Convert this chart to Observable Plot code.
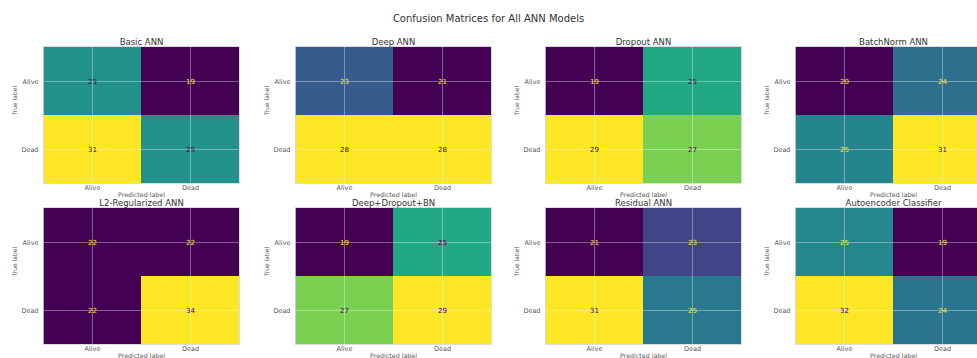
<!DOCTYPE html>
<html>
<head>
<meta charset="utf-8">
<script src="https://cdn.jsdelivr.net/npm/d3@7"></script>
<script src="https://cdn.jsdelivr.net/npm/@observablehq/plot@0.6"></script>
<style>
  html, body { margin: 0; padding: 0; background: #fff; }
  #wrap { position: relative; width: 977px; height: 358px; overflow: hidden; font-family: "DejaVu Sans", sans-serif; }
  #title { position: absolute; top: 13px; left: 0; width: 977px; text-align: center; font-size: 10px; color: #333; }
  .panel { position: absolute; }
</style>
</head>
<body>
<div id="wrap">
  <div id="title">Confusion Matrices for All ANN Models</div>
</div>
<script>
// Models, class labels and the four confusion counts per model
const models = ["Basic ANN", "Deep ANN", "Dropout ANN", "BatchNorm ANN",
                "L2-Regularized ANN", "Deep+Dropout+BN", "Residual ANN", "Autoencoder Classifier"];
const classes = ["Alive", "Dead"];
const trueAlivePredAlive = [25, 23, 19, 20, 22, 19, 21, 25];
const trueAlivePredDead  = [19, 21, 25, 24, 22, 25, 23, 19];
const trueDeadPredAlive  = [31, 28, 29, 25, 22, 27, 31, 32];
const trueDeadPredDead   = [25, 28, 27, 31, 34, 29, 25, 24];

const colLeft = [0, 252, 502, 752];
const rowTop = [30, 191];
const dark = d3.interpolateViridis(0);
const bright = d3.interpolateViridis(1);
const wrap = document.getElementById("wrap");

models.forEach((name, i) => {
  const cells = [
    {truth: "Alive", pred: "Alive", value: trueAlivePredAlive[i]},
    {truth: "Alive", pred: "Dead",  value: trueAlivePredDead[i]},
    {truth: "Dead",  pred: "Alive", value: trueDeadPredAlive[i]},
    {truth: "Dead",  pred: "Dead",  value: trueDeadPredDead[i]}
  ];
  const [lo, hi] = d3.extent(cells, d => d.value);
  const thresh = (lo + hi) / 2;

  const chart = Plot.plot({
    width: 250,
    height: 177,
    marginLeft: 43,
    marginRight: 11,
    marginTop: 16,
    marginBottom: 24,
    style: {background: "transparent", overflow: "visible", fontFamily: "DejaVu Sans, sans-serif", color: "#555"},
    x: {domain: classes, padding: 0, label: null},
    y: {domain: classes, padding: 0, label: null},
    color: {type: "linear", scheme: "viridis", domain: [lo, hi]},
    marks: [
      Plot.cell(cells, {x: "pred", y: "truth", fill: "value", inset: 0}),
      Plot.gridX({stroke: "#ffffff", strokeOpacity: 0.45, strokeWidth: 0.8}),
      Plot.gridY({stroke: "#ffffff", strokeOpacity: 0.45, strokeWidth: 0.8}),
      Plot.frame({stroke: "#d8d0e0", strokeWidth: 0.8}),
      Plot.text(cells.filter(d => d.value < thresh), {x: "pred", y: "truth", text: "value", fill: bright, fontSize: 7}),
      Plot.text(cells.filter(d => d.value >= thresh), {x: "pred", y: "truth", text: "value", fill: dark, fontSize: 7}),
      Plot.axisX({tickSize: 0, tickPadding: 2, fontSize: 6.5, label: null}),
      Plot.axisY({tickSize: 0, tickPadding: 5, fontSize: 6.5, label: null}),
      Plot.text([name], {frameAnchor: "top", lineAnchor: "bottom", dy: -1.5, fontSize: 8.5, fill: "#333"}),
      Plot.text(["Predicted label"], {frameAnchor: "bottom", lineAnchor: "middle", dy: 11, fontSize: 6.3, fill: "#555"}),
      Plot.text(["True label"], {frameAnchor: "left", dx: -28, rotate: -90, fontSize: 6, fill: "#555"})
    ]
  });
  chart.classList.add("panel");
  chart.style.left = colLeft[i % 4] + "px";
  chart.style.top = rowTop[Math.floor(i / 4)] + "px";
  wrap.appendChild(chart);
});
</script>
</body>
</html>
